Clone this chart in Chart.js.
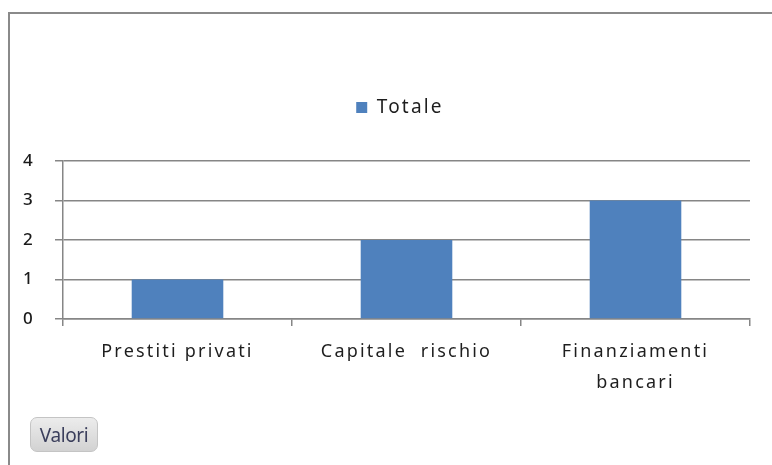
<!DOCTYPE html>
<html><head><meta charset="utf-8">
<script src="https://cdn.jsdelivr.net/npm/chart.js@4/dist/chart.umd.min.js"></script>
<style>
html,body{margin:0;padding:0;background:#fff;width:772px;height:465px;overflow:hidden;}
#frame{position:absolute;left:8px;top:12px;width:764px;height:453px;border-top:2px solid #8a8a8a;border-left:2px solid #8a8a8a;box-sizing:border-box;}
#wrap{position:absolute;left:0;top:0;width:772px;height:465px;}
#btn{position:absolute;left:30px;top:417px;width:68px;height:35px;box-sizing:border-box;border:1px solid #c4c4c4;border-radius:7px;background:linear-gradient(#ececec,#d2d2d2);font-family:"Noto Sans",sans-serif;font-size:19px;color:#3b3f5c;display:flex;align-items:center;justify-content:center;letter-spacing:-0.4px;}
</style></head>
<body>
<div id="frame"></div>
<div id="wrap"><canvas id="c" width="772" height="465"></canvas></div>
<div id="btn">Valori</div>
<script>
const categories = [["Prestiti privati"], ["Capitale  rischio"], ["Finanziamenti", "bancari"]];
const seriesName = "Totale";
const values = [1, 2, 3];
const yTickLabels = ["0", "1", "2", "3", "4"];

const SPACING = '2.2px';
const spacingPlugin = {
  id: 'spacing',
  afterInit(chart) {
    const lg = chart.legend;
    if (lg) {
      const orig = lg.fit;
      lg.fit = function () { orig.call(this); this.height = 108; };
    }
  },
  beforeLayout(chart) { chart.ctx.letterSpacing = SPACING; },
  afterLayout(chart) {
    if (chart.legend) { chart.legend.left = 50; }
  },
  beforeDraw(chart) { chart.ctx.letterSpacing = SPACING; }
};

new Chart(document.getElementById('c'), {
  type: 'bar',
  data: {
    labels: categories,
    datasets: [{label: seriesName, data: values, backgroundColor: '#4F81BD', borderWidth: 0,
      barPercentage: 0.4, categoryPercentage: 1}]
  },
  plugins: [spacingPlugin],
  options: {
    responsive: false,
    animation: false,
    devicePixelRatio: 1,
    layout: {padding: {left: 0, right: 22, top: 53, bottom: 0}},
    plugins: {
      legend: {position: 'top', align: 'center',
        labels: {boxWidth: 11, boxHeight: 11, padding: 45, color: '#1e1e1e',
          font: {family: "'Noto Sans', sans-serif", size: 19}}},
      tooltip: {enabled: false}
    },
    scales: {
      x: {
        grid: {display: true, drawOnChartArea: false, drawTicks: true, tickLength: 7, color: '#868686', lineWidth: 1.5, offset: true},
        border: {display: true, color: '#868686', width: 1.5},
        ticks: {color: '#1e1e1e', font: {family: "'Noto Sans', sans-serif", size: 18, lineHeight: 1.72},
          padding: 10, maxRotation: 0, autoSkip: false},
        afterFit: s => { s.height = 146; }
      },
      y: {
        min: 0, max: 4,
        grid: {color: '#868686', lineWidth: 1.5, tickLength: 8, drawTicks: true},
        border: {display: true, color: '#868686', width: 1.5},
        ticks: {color: '#1a1a1a', font: {family: "'Noto Sans', sans-serif", size: 17, weight: '500'},
          padding: 20, stepSize: 1, callback: (v, i) => yTickLabels[i]},
        afterFit: s => { s.width = 63; }
      }
    }
  }
});
</script>
</body></html>
